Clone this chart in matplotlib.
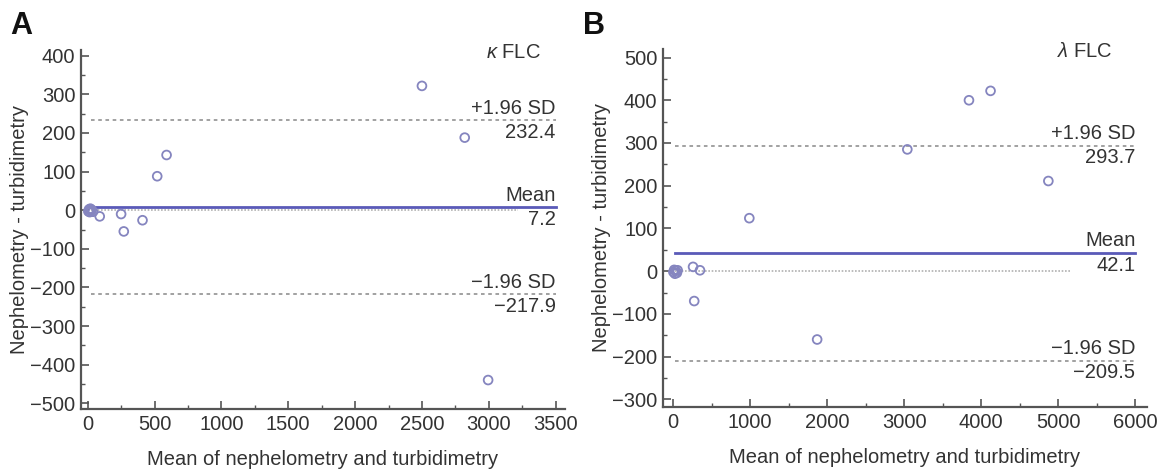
import matplotlib
matplotlib.use("Agg")
import matplotlib.pyplot as plt
from matplotlib.ticker import MultipleLocator

plt.rcParams['font.family'] = ['Liberation Sans', 'DejaVu Sans']
plt.rcParams['mathtext.fontset'] = 'custom'
plt.rcParams['mathtext.rm'] = 'Liberation Sans'
plt.rcParams['mathtext.it'] = 'Liberation Sans:italic'

# ---- Data ----
kappa_x = [5, 10, 15, 20, 25, 30, 40, 90, 250, 270, 410, 520, 590, 2500, 2820, 2995]
kappa_y = [-3, 2, -5, 4, -2, 1, -4, -16, -10, -55, -26, 88, 143, 322, 188, -440]
kappa_mean, kappa_upper, kappa_lower = 7.2, 232.4, -217.9

lambda_x = [5, 15, 25, 35, 50, 60, 260, 350, 275, 990, 1870, 3040, 3840, 4120, 4870]
lambda_y = [-2, 3, -6, 1, -4, 2, 10, 2, -70, 124, -160, 285, 400, 422, 211]
lambda_mean, lambda_upper, lambda_lower = 42.1, 293.7, -209.5

panel_letters = ["A", "B"]
panel_titles = [r"$\it{\kappa}$ FLC", r"$\it{\lambda}$ FLC"]
xlabel = "Mean of nephelometry and turbidimetry"
ylabel = "Nephelometry - turbidimetry"

point_color = "#8585bf"
mean_color = "#5a5ab8"
sd_color = "#9a9a9a"
spine_color = "#555555"
text_color = "#333333"
FS = 14.5

fig = plt.figure(figsize=(11.65, 4.70), dpi=100)

panels = [
    dict(rect=[81/1165, 61/470, 484/1165, 359/470], x=kappa_x, y=kappa_y,
         mean=kappa_mean, up=kappa_upper, lo=kappa_lower,
         xlim=(-50, 3570), ylim=(-515, 415), xmaj=500, xmin=250, ymaj=100, ymin=50,
         xend=3500, zero_end=3220, line_start=25, title_xy=(3390, 408),
         letter_x=10/1165),
    dict(rect=[663/1165, 63/470, 484/1165, 358/470], x=lambda_x, y=lambda_y,
         mean=lambda_mean, up=lambda_upper, lo=lambda_lower,
         xlim=(-130, 6150), ylim=(-318, 520), xmaj=1000, xmin=500, ymaj=100, ymin=50,
         xend=6000, zero_end=5150, line_start=25, title_xy=(5700, 513),
         letter_x=583/1165),
]

for i, p in enumerate(panels):
    ax = fig.add_axes(p["rect"])
    ax.set_xlim(*p["xlim"])
    ax.set_ylim(*p["ylim"])
    for s in ["top", "right"]:
        ax.spines[s].set_visible(False)
    for s in ["left", "bottom"]:
        ax.spines[s].set_color(spine_color)
        ax.spines[s].set_linewidth(1.6)
    ax.xaxis.set_major_locator(MultipleLocator(p["xmaj"]))
    ax.xaxis.set_minor_locator(MultipleLocator(p["xmin"]))
    ax.yaxis.set_major_locator(MultipleLocator(p["ymaj"]))
    ax.yaxis.set_minor_locator(MultipleLocator(p["ymin"]))
    ax.tick_params(which="major", direction="in", length=6, width=1.2,
                   color=spine_color, labelsize=FS, labelcolor=text_color, pad=4)
    ax.tick_params(which="minor", direction="in", length=3, width=1.0, color=spine_color)

    # zero reference (dotted)
    ax.plot([p["line_start"], p["zero_end"]], [0, 0], color="#b0b0b0", lw=1.2,
            ls=(0, (1, 1)), zorder=1)
    # limits of agreement
    for v in (p["up"], p["lo"]):
        ax.plot([p["line_start"], p["xend"]], [v, v], color=sd_color, lw=1.3,
                ls=(0, (2, 2)), zorder=1)
    ax.plot([p["line_start"], p["xend"]], [p["mean"], p["mean"]], color=mean_color,
            lw=2.0, zorder=2)

    ax.scatter(p["x"], p["y"], s=40, facecolors="none", edgecolors=point_color,
               linewidths=1.3, zorder=3)

    # labels on lines
    for top, bottom, v in (("+1.96 SD", f"{p['up']:.1f}", p["up"]),
                           ("Mean", f"{p['mean']:.1f}", p["mean"]),
                           ("\u22121.96 SD", f"{p['lo']:.1f}".replace("-", "\u2212"), p["lo"])):
        ax.annotate(top, (p["xend"], v), xytext=(0, 2), textcoords="offset points",
                    ha="right", va="bottom", fontsize=FS, color=text_color)
        ax.annotate(bottom, (p["xend"], v), xytext=(0, -2), textcoords="offset points",
                    ha="right", va="top", fontsize=FS, color=text_color)

    ax.text(p["title_xy"][0], p["title_xy"][1], panel_titles[i], ha="right",
            va="center", fontsize=FS, color=text_color)

    ax.set_xlabel(xlabel, fontsize=FS, color=text_color, labelpad=12)
    ax.set_ylabel(ylabel, fontsize=FS, color=text_color, labelpad=1)

    fig.text(p["letter_x"], 1 - 26/470, panel_letters[i], fontsize=22,
             fontweight="bold", va="center", ha="left", color="#111111")

fig.savefig("out.png", dpi=100)
